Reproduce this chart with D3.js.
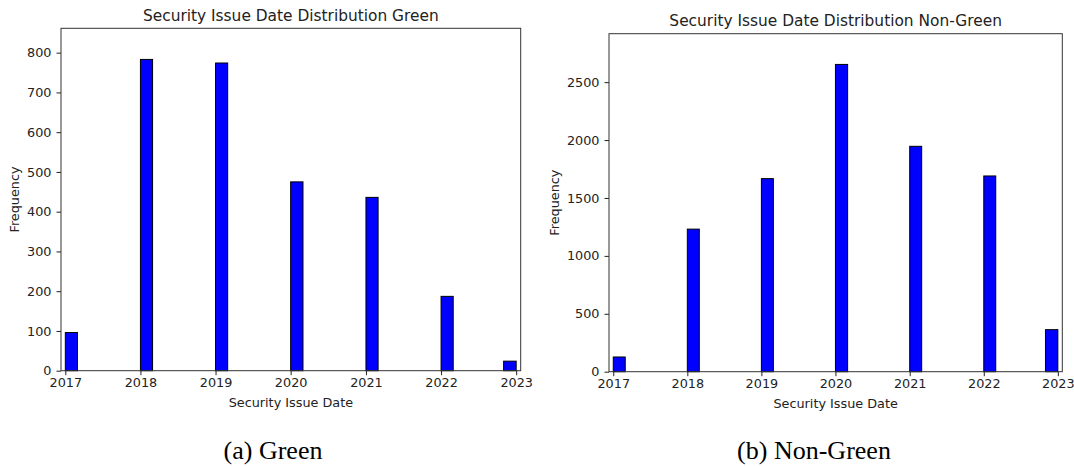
<!DOCTYPE html>
<html>
<head>
<meta charset="utf-8">
<script src="https://cdn.jsdelivr.net/npm/d3@7"></script>
<style>
  html, body { margin: 0; padding: 0; background: #fff; }
  svg { display: block; }
  .tick text { font-family: "DejaVu Sans", sans-serif; }
</style>
</head>
<body>
<svg id="fig" width="1074" height="466"></svg>
<script>
// Two-month histogram bins (start month of each non-empty bin)
const binStarts = ["2017-01", "2018-01", "2019-01", "2020-01", "2021-01", "2022-01", "2022-11"];
// Number of securities issued in each bin
const greenCounts = [96, 783, 774, 475, 436, 187, 24];
const nonGreenCounts = [127, 1231, 1667, 2653, 1946, 1690, 363];
// Y-axis tick labels
const greenTicks = [0, 100, 200, 300, 400, 500, 600, 700, 800];
const nonGreenTicks = [0, 500, 1000, 1500, 2000, 2500];
// Titles and captions
const titles = ["Security Issue Date Distribution Green", "Security Issue Date Distribution Non-Green"];
const captions = ["(a) Green", "(b) Non-Green"];

const parseMonth = d3.utcParse("%Y-%m");
const svg = d3.select("#fig");

function histogram(cfg) {
  const { box, counts, ticks, title, caption, captionX, ylabelX } = cfg;
  const g = svg.append("g");

  const x = d3.scaleUtc()
    .domain([new Date(Date.UTC(2016, 11, 11)), new Date(Date.UTC(2023, 0, 23))])
    .range([box.x0, box.x1]);
  const y = d3.scaleLinear()
    .domain([0, d3.max(counts) * 1.1])
    .range([box.y1, box.y0]);

  const bins = binStarts.map((s, i) => {
    const start = parseMonth(s);
    return { start, end: d3.utcMonth.offset(start, 2), count: counts[i] };
  });

  g.selectAll("rect.bar")
    .data(bins)
    .join("rect")
    .attr("class", "bar")
    .attr("x", d => x(d.start))
    .attr("width", d => x(d.end) - x(d.start))
    .attr("y", d => y(d.count))
    .attr("height", d => y(0) - y(d.count))
    .attr("fill", "#0000ff")
    .attr("stroke", "#000")
    .attr("stroke-width", 1);

  const xAxis = d3.axisBottom(x)
    .ticks(d3.utcYear.every(1))
    .tickFormat(d3.utcFormat("%Y"))
    .tickSizeOuter(0)
    .tickSize(4.5)
    .tickPadding(3);
  const gx = g.append("g")
    .attr("transform", `translate(0,${box.y1})`)
    .call(xAxis);

  const yAxis = d3.axisLeft(y)
    .tickValues(ticks)
    .tickFormat(d3.format("d"))
    .tickSizeOuter(0)
    .tickSize(4.5)
    .tickPadding(5);
  const gy = g.append("g")
    .attr("transform", `translate(${box.x0},0)`)
    .call(yAxis);

  [gx, gy].forEach(a => {
    a.select(".domain").remove();
    a.selectAll(".tick line").attr("stroke", "#222");
    a.selectAll(".tick text").attr("fill", "#222").attr("font-size", "12.8px");
  });

  // axes frame
  g.append("rect")
    .attr("x", box.x0).attr("y", box.y0)
    .attr("width", box.x1 - box.x0).attr("height", box.y1 - box.y0)
    .attr("fill", "none").attr("stroke", "#333").attr("stroke-width", 1);

  const cx = (box.x0 + box.x1) / 2;
  g.append("text")
    .attr("x", cx).attr("y", box.y0 - 7.6)
    .attr("text-anchor", "middle")
    .attr("font-family", "DejaVu Sans, sans-serif")
    .attr("font-size", "15.4px").attr("fill", "#222")
    .text(title);

  g.append("text")
    .attr("x", cx).attr("y", box.y1 + 36)
    .attr("text-anchor", "middle")
    .attr("font-family", "DejaVu Sans, sans-serif")
    .attr("font-size", "12.8px").attr("fill", "#222")
    .text("Security Issue Date");

  g.append("text")
    .attr("transform", `translate(${ylabelX},${(box.y0 + box.y1) / 2}) rotate(-90)`)
    .attr("text-anchor", "middle")
    .attr("font-family", "DejaVu Sans, sans-serif")
    .attr("font-size", "12.8px").attr("fill", "#222")
    .text("Frequency");

  g.append("text")
    .attr("x", captionX).attr("y", 458.5)
    .attr("text-anchor", "middle")
    .attr("font-family", "Liberation Serif, Times New Roman, serif")
    .attr("font-size", "26px").attr("fill", "#000")
    .text(caption);
}

histogram({
  box: { x0: 61, x1: 520.7, y0: 28.3, y1: 370.7 },
  counts: greenCounts, ticks: greenTicks,
  title: titles[0], caption: captions[0], captionX: 273, ylabelX: 18.5
});
histogram({
  box: { x0: 609, x1: 1062.3, y0: 33.7, y1: 371.7 },
  counts: nonGreenCounts, ticks: nonGreenTicks,
  title: titles[1], caption: captions[1], captionX: 814, ylabelX: 559
});
</script>
</body>
</html>
